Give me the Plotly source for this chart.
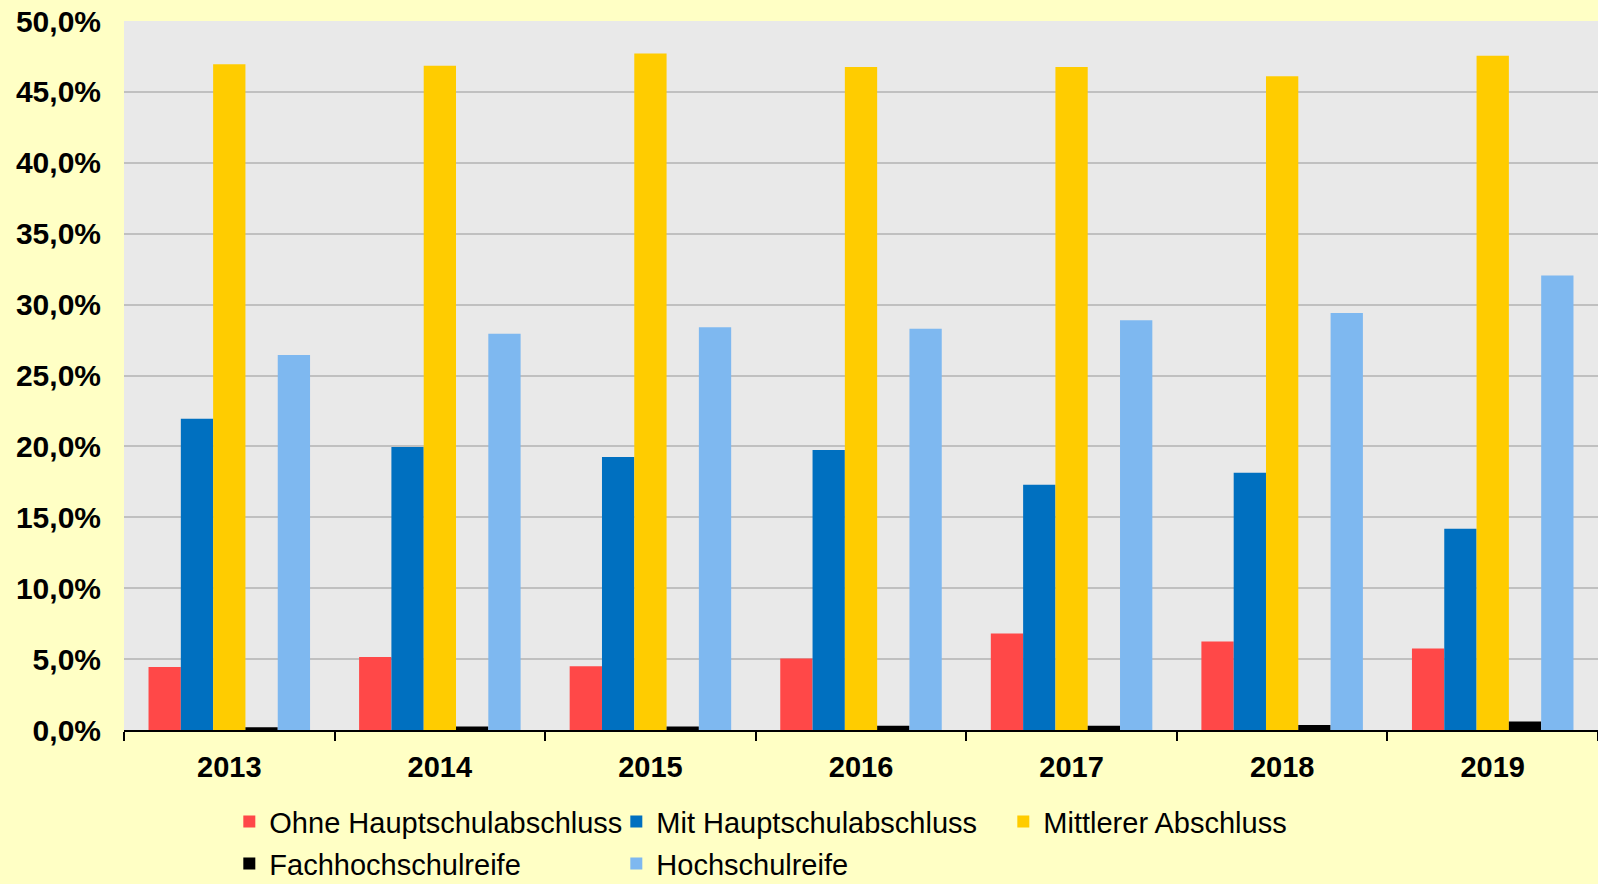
import plotly.graph_objects as go

years = ["2013", "2014", "2015", "2016", "2017", "2018", "2019"]
ohne_hs = [4.45, 5.15, 4.5, 5.05, 6.8, 6.25, 5.75]
mit_hs = [21.95, 19.95, 19.25, 19.75, 17.3, 18.15, 14.2]
mittlerer = [46.95, 46.85, 47.7, 46.75, 46.75, 46.1, 47.55]
fachhochschulreife = [0.2, 0.25, 0.25, 0.3, 0.3, 0.35, 0.6]
hochschulreife = [26.45, 27.95, 28.4, 28.3, 28.9, 29.4, 32.05]

series = [
    ("Ohne Hauptschulabschluss", ohne_hs, "#FF4848", "legend"),
    ("Mit Hauptschulabschluss", mit_hs, "#0070C0", "legend"),
    ("Mittlerer Abschluss", mittlerer, "#FFCC00", "legend"),
    ("Fachhochschulreife", fachhochschulreife, "#000000", "legend2"),
    ("Hochschulreife", hochschulreife, "#7EB8F0", "legend2"),
]

fig = go.Figure()
for name, vals, col, leg in series:
    fig.add_trace(go.Bar(x=years, y=vals, name=name, marker_color=col,
                         marker_line_width=0, legend=leg))

# two legend rows, spaced like the original
leg_style = dict(
    orientation="h",
    xref="container", yref="container",
    x=0.1435, xanchor="left", yanchor="top",
    entrywidth=342, entrywidthmode="pixels",
    itemwidth=30,
    font=dict(size=29),
    bgcolor="rgba(0,0,0,0)",
    traceorder="normal",
)

fig.update_layout(
    width=1598, height=884,
    margin=dict(l=124, r=0, t=21, b=154),
    paper_bgcolor="#FFFFC5",
    plot_bgcolor="#E9E9E9",
    barmode="group",
    bargap=0.233,
    bargroupgap=0,
    separators=",.",
    font=dict(family="Liberation Sans, Arial", color="#000000"),
    legend=dict(leg_style, y=0.0995),
    legend2=dict(leg_style, y=0.052),
    showlegend=True,
)
fig.update_yaxes(
    range=[0, 50], dtick=5, tickformat=".1f", ticksuffix="%",
    showgrid=True, gridcolor="#C0C0C0", gridwidth=2,
    zeroline=False, showline=False, automargin=False,
    tickfont=dict(size=30, family="Liberation Sans, Arial", weight="bold"),
    ticks="", ticklabelstandoff=22,
)
fig.update_xaxes(
    showline=True, linecolor="#000000", linewidth=2,
    ticks="outside", tickson="boundaries", ticklen=9, tickwidth=2,
    tickcolor="#000000", automargin=False,
    tickfont=dict(size=29, family="Liberation Sans, Arial", weight="bold"),
    ticklabelstandoff=10,
)

# drop the default page margin so the figure sits at the window's corner
fig.write_html("out.html", config={"displayModeBar": False},
               post_script="document.body.style.margin='0';")
